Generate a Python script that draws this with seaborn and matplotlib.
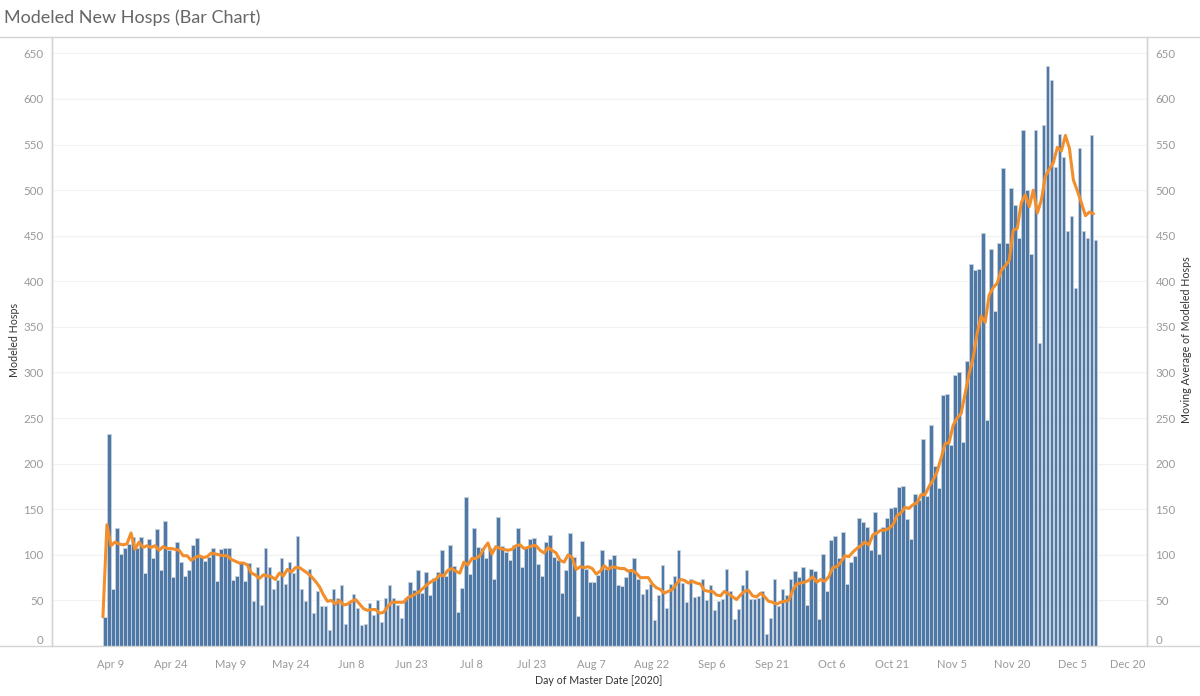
import numpy as np
import pandas as pd
import matplotlib
matplotlib.use('Agg')
import matplotlib.pyplot as plt
from matplotlib.lines import Line2D
from matplotlib.transforms import ScaledTranslation
import seaborn as sns

hosps = [32,232,62,129,101,107,112,120,107,120,
         80,117,96,128,83,137,105,76,114,92,
         77,83,111,119,98,93,98,107,71,106,
         108,107,72,77,91,71,91,49,87,45,
         107,87,63,72,96,68,92,80,121,62,
         49,84,36,60,44,44,18,62,53,67,
         24,49,
         57,42,23,24,47,34,50,26,53,67,
         53,45,31,53,70,61,83,58,81,56,
         75,81,105,77,111,88,37,64,163,79,
         129,109,107,97,107,74,142,110,103,94,
         111,129,87,107,117,119,90,77,114,122,
         98,94,58,83,124,98,33,115,84,70,
         70,78,
         105,84,95,100,67,66,76,85,96,74,
         57,62,68,29,56,89,42,68,77,105,
         69,48,74,54,55,73,50,67,39,49,
         52,84,60,30,41,67,83,52,52,53,
         60,13,31,73,44,62,56,74,82,76,
         87,45,85,82,30,101,60,116,121,96,
         125,68,92,
         99,140,136,131,105,147,101,130,140,151,
         152,174,175,139,117,167,160,227,165,242,
         197,173,275,276,220,297,300,224,313,
         419,412,414,453,248,436,368,442,524,442,
         502,484,448,566,500,430,566,332,571,636,
         621,525,562,536,455,472,393,546,455,448,
         561,445]

moving_avg = [32,133,110,114,112,111,112,124,106,114,
              108,110,108,110,105,109,107,107,106,105,
              99,99,94,97,99,97,98,102,101,100,
              99,99,95,93,91,91,89,80,78,74,
              78,77,76,73,80,77,84,81,86,86,
              83,80,76,71,65,56,49,50,46,50,
              45,46,
              49,51,46,41,39,40,40,36,37,43,
              48,48,48,48,53,55,57,60,64,68,
              71,73,78,77,83,85,82,80,92,89,
              96,96,99,107,113,101,109,107,106,105,
              106,110,111,107,108,110,110,105,102,108,
              105,102,94,92,100,97,84,87,86,87,
              85,79,
              82,88,84,87,86,85,85,82,83,80,
              75,75,75,68,64,62,58,60,62,68,
              73,72,69,71,69,68,61,60,60,56,
              55,60,57,54,51,56,60,61,55,54,
              58,54,49,48,46,48,49,50,61,68,
              69,70,72,76,70,73,71,76,86,87,
              92,99,98,
              103,107,110,114,111,122,124,127,127,129,
              133,143,146,152,151,155,157,166,166,175,
              182,191,206,222,223,242,250,255,277,
              299,316,343,362,355,385,393,398,412,417,
              423,456,458,486,495,482,500,475,489,515,
              523,530,547,543,560,546,511,499,486,472,
              476,474]

tick_dates = ['2020-04-09','2020-04-24','2020-05-09','2020-05-24','2020-06-08','2020-06-23',
              '2020-07-08','2020-07-23','2020-08-07','2020-08-22','2020-09-06','2020-09-21',
              '2020-10-06','2020-10-21','2020-11-05','2020-11-20','2020-12-05','2020-12-20']
tick_labels = ['Apr 9','Apr 24','May 9','May 24','Jun 8','Jun 23','Jul 8','Jul 23','Aug 7',
               'Aug 22','Sep 6','Sep 21','Oct 6','Oct 21','Nov 5','Nov 20','Dec 5','Dec 20']
y_ticks = list(range(0, 651, 50))

sns.set_style('white')
plt.rcParams['font.family'] = ['Lato', 'DejaVu Sans']

start = pd.Timestamp('2020-04-08')
dates = pd.date_range(start, periods=len(hosps))
df = pd.DataFrame({'day': (dates - start).days, 'hosps': hosps, 'avg': moving_avg})
tick_pos = (pd.to_datetime(tick_dates) - start).days + 0.33

GREY = '#999999'
RULE = '#d4d4d4'

fig = plt.figure(figsize=(12, 6.96), dpi=100)
ax = fig.add_axes([52/1200, 50/696, 1095/1200, 609/696])

sns.barplot(data=df, x='day', y='hosps', native_scale=True, color='#4e79a7', saturation=1,
            width=0.9, edgecolor='#c9d2dc', linewidth=0.6, ax=ax, zorder=2)

ax2 = ax.twinx()
sns.lineplot(x=df['day'] - 0.5, y=df['avg'], color='#f28e2b', linewidth=2.2, ax=ax2, zorder=3)

ax.set_xlim(-13.2, 259.85)
for a in (ax, ax2):
    a.set_ylim(0, 668)
    a.set_yticks(y_ticks)
    a.set_yticklabels([str(v) for v in y_ticks])
    a.tick_params(axis='y', length=0, pad=6, labelsize=8.3, labelcolor=GREY)
    a.set_xlabel('')
    for s in a.spines.values():
        s.set_color(RULE)
        s.set_linewidth(1)
    a.spines['top'].set_visible(False)
    a.spines['bottom'].set_visible(False)
    a.get_yticklabels()[0].set_verticalalignment('bottom')

ax.grid(axis='y', color='#f2f2f2', linewidth=0.9)
ax.set_axisbelow(True)
ax2.grid(False)

ax.set_xticks(tick_pos)
ax.set_xticklabels(tick_labels)
ax.tick_params(axis='x', length=3, width=0.7, color='#e2e2e2', pad=6, labelsize=8, labelcolor=GREY)
# last label sits a bit left of its tick in the original
last = ax.get_xticklabels()[-1]
last.set_transform(last.get_transform() + ScaledTranslation(-5/100, 0, fig.dpi_scale_trans))

ax.set_ylabel('')
ax2.set_ylabel('')
fig.text(15/1200, 1 - 340/696, 'Modeled Hosps', rotation=90, ha='center', va='center',
         fontsize=7.7, color='#333333')
fig.text(1186/1200, 1 - 340/696, 'Moving Average of Modeled Hosps', rotation=90, ha='center',
         va='center', fontsize=7.7, color='#333333')
fig.text(599/1200, 1 - 681/696, 'Day of Master Date [2020]', ha='center', va='center',
         fontsize=7.7, color='#333333')
fig.text(4/1200, 1 - 18/696, 'Modeled New Hosps (Bar Chart)', ha='left', va='center',
         fontsize=13, color='#666666')

# rules across the whole width, above and below the pane
for y in (37, 646):
    fig.add_artist(Line2D([0, 1], [1 - y/696, 1 - y/696], color=RULE, linewidth=1))

fig.savefig('out.png', dpi=100, facecolor='white')
